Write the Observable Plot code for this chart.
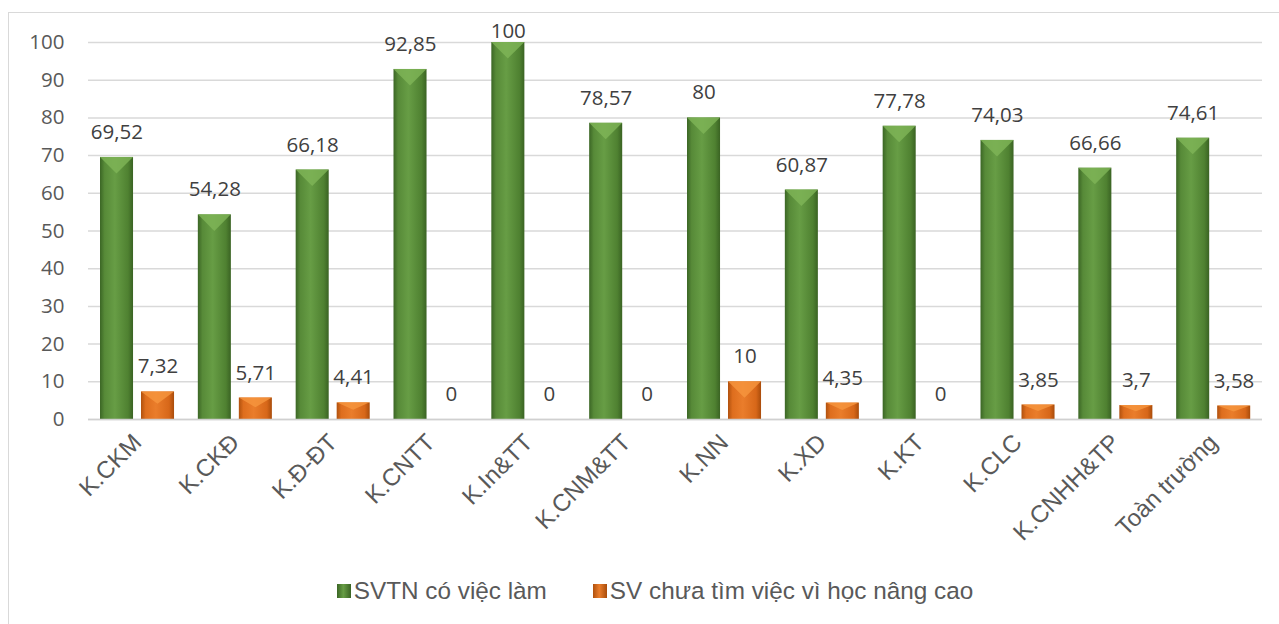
<!DOCTYPE html>
<html>
<head>
<meta charset="utf-8">
<script src="https://cdn.jsdelivr.net/npm/d3@7"></script>
<script src="https://cdn.jsdelivr.net/npm/@observablehq/plot@0.6"></script>
<style>
  html, body { margin: 0; padding: 0; background: #fff; }
  body { width: 1279px; height: 624px; overflow: hidden; position: relative; font-family: "Liberation Sans", Arial, sans-serif; }
  #frame { position: absolute; left: 8px; top: 12px; width: 1300px; height: 700px; border: 1.5px solid #d9d9d9; box-sizing: border-box; }
  #chart { position: absolute; left: 0; top: 0; }
  #legend { position: absolute; left: 0; top: 575px; width: 1310px; height: 32px; display: flex; justify-content: center; align-items: center; gap: 46px; font-size: 24.3px; color: #595959; }
  .item { display: flex; align-items: center; gap: 3px; }
  .sw { width: 14px; height: 14px; display: inline-block; }
</style>
</head>
<body>
<div id="frame"></div>
<div id="chart"></div>
<div id="legend"></div>
<script>
const categories = ["K.CKM","K.CKĐ","K.Đ-ĐT","K.CNTT","K.In&TT","K.CNM&TT","K.NN","K.XD","K.KT","K.CLC","K.CNHH&TP","Toàn trường"];
const employed = [69.52,54.28,66.18,92.85,100,78.57,80,60.87,77.78,74.03,66.66,74.61];
const furtherStudy = [7.32,5.71,4.41,0,0,0,10,4.35,0,3.85,3.7,3.58];
const seriesNames = ["SVTN có việc làm","SV chưa tìm việc vì học nâng cao"];
const yTicks = [0,10,20,30,40,50,60,70,80,90,100];

const green = categories.map((c, i) => ({cat: c, value: employed[i]}));
const orange = categories.map((c, i) => ({cat: c, value: furtherStudy[i]}));
const fmt = v => String(v).replace(".", ",");

function bevel(light) {
  return function(index, scales, values, dimensions, context, next) {
    const g = next(index, scales, values, dimensions, context);
    const ns = "http://www.w3.org/2000/svg";
    for (const r of Array.from(g.querySelectorAll("rect"))) {
      const x = +r.getAttribute("x"), y = +r.getAttribute("y");
      const w = +r.getAttribute("width"), h = +r.getAttribute("height");
      if (!(h > 0.5)) continue;
      const d = Math.min(w * 0.5, h * 0.45);
      const p = document.createElementNS(ns, "polygon");
      p.setAttribute("points", `${x},${y} ${x + w},${y} ${x + w / 2},${y + d}`);
      p.setAttribute("fill", light);
      p.setAttribute("fill-opacity", "0.8");
      r.parentNode.appendChild(p);
    }
    return g;
  };
}

// keep value labels inside the chart area (as the spreadsheet does)
function clampTop(minY, dy) {
  return function(index, scales, values, dimensions, context, next) {
    const g = next(index, scales, values, dimensions, context);
    for (const t of Array.from(g.querySelectorAll("text"))) {
      const tr = t.getAttribute("transform");
      const m = tr && tr.match(/translate\(\s*([-\d.e]+)[,\s]+([-\d.e]+)\s*\)/);
      if (m) {
        const x = +m[1], y = +m[2];
        if (y + dy < minY) t.setAttribute("transform", tr.replace(m[0], `translate(${x},${minY - dy})`));
      } else if (t.hasAttribute("y")) {
        const y = +t.getAttribute("y");
        if (y + dy < minY) t.setAttribute("y", minY - dy);
      }
    }
    return g;
  };
}

function defs() {
  const ns = "http://www.w3.org/2000/svg";
  const d = document.createElementNS(ns, "defs");
  const mk = (id, stops) => {
    const lg = document.createElementNS(ns, "linearGradient");
    lg.setAttribute("id", id);
    lg.setAttribute("x1", "0"); lg.setAttribute("x2", "1"); lg.setAttribute("y1", "0"); lg.setAttribute("y2", "0");
    for (const [o, c] of stops) {
      const s = document.createElementNS(ns, "stop");
      s.setAttribute("offset", o); s.setAttribute("stop-color", c);
      lg.appendChild(s);
    }
    d.appendChild(lg);
  };
  mk("gGreen", [["0%","#3b6625"],["14%","#578a38"],["45%","#679d45"],["85%","#4f8131"],["100%","#3a6323"]]);
  mk("gOrange", [["0%","#b0510e"],["14%","#de6e1e"],["45%","#ea7d2b"],["85%","#d76719"],["100%","#a94c0b"]]);
  return d;
}

const chart = Plot.plot({
  width: 1279,
  height: 570,
  marginLeft: 88,
  marginRight: 17,
  marginTop: 42,
  marginBottom: 151,
  style: { fontFamily: "'Open Sans', sans-serif", background: "transparent" },
  x: { domain: categories, padding: 0, round: false, label: null },
  y: { domain: [0, 100], label: null },
  marks: [
    defs,
    Plot.gridY(yTicks, { stroke: "#d9d9d9", strokeOpacity: 1, strokeWidth: 1.5 }),
    Plot.barY(green, { x: "cat", y: "value", fill: "url(#gGreen)", insetLeft: 12, insetRight: 52.8, render: bevel("#80b558") }),
    Plot.barY(orange, { x: "cat", y: "value", fill: "url(#gOrange)", insetLeft: 53, insetRight: 11.8, render: bevel("#f6963f") }),
    Plot.ruleY([0], { stroke: "#d0d0d0", strokeWidth: 1.5 }),
    Plot.text(green, { x: "cat", y: "value", text: d => fmt(d.value), dx: -20.5, dy: -25, fontSize: 20.5, fill: "#404040", render: clampTop(31, -25) }),
    Plot.text(orange, { x: "cat", y: "value", text: d => fmt(d.value), dx: 20.5, dy: -25, fontSize: 20.5, fill: "#404040" }),
    Plot.axisY({ ticks: yTicks, tickSize: 0, tickPadding: 24, fontSize: 20.5, fill: "#595959", label: null }),
    Plot.axisX({ tickSize: 0, tickPadding: 19, tickRotate: -45, fontSize: 24, fontFamily: "'Liberation Sans', Arial, sans-serif", fill: "#595959", label: null })
  ]
});
document.getElementById("chart").appendChild(chart);

const legend = document.getElementById("legend");
const swatches = [
  "linear-gradient(90deg,#3b6625,#679d45 45%,#3a6323)",
  "linear-gradient(90deg,#b0510e,#ea7d2b 45%,#a94c0b)"
];
seriesNames.forEach((n, i) => {
  const it = document.createElement("div");
  it.className = "item";
  const sw = document.createElement("span");
  sw.className = "sw";
  sw.style.background = swatches[i];
  const t = document.createElement("span");
  t.textContent = n;
  it.appendChild(sw); it.appendChild(t);
  legend.appendChild(it);
});
</script>
</body>
</html>
